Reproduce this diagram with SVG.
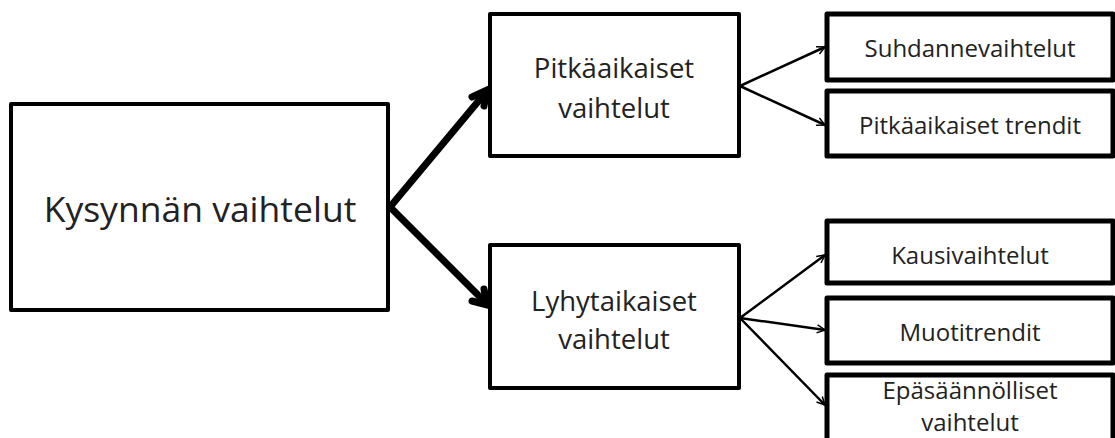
<svg xmlns="http://www.w3.org/2000/svg" width="1115" height="438" viewBox="0 0 1115 438">
<style>
.box{fill:#fff;stroke:#000;stroke-width:4;stroke-linejoin:round}
.sbox{fill:#fff;stroke:#000;stroke-width:5;stroke-linejoin:round}
text{font-family:"Open Sans","Noto Sans",sans-serif;fill:#222;text-anchor:middle;dominant-baseline:central}
.big{font-size:35.5px}
.mid{font-size:27.5px}
.sm{font-size:24px}
.thick{stroke:#000;stroke-width:7;fill:none;stroke-linecap:round}
.thin{stroke:#000;stroke-width:2.5;fill:none;stroke-linecap:round}
</style>
<defs>
<marker id="hd" viewBox="0 0 10 10" refX="9" refY="5" markerWidth="10" markerHeight="10" markerUnits="userSpaceOnUse" orient="auto">
<path d="M1,1 L9,5 L1,9" fill="none" stroke="#000" stroke-width="1.5"/>
</marker>
</defs>
<g id="n-main"><rect class="box" x="11" y="104" width="377" height="206"/><text class="big" x="200" y="208">Kysynnän vaihtelut</text></g>
<g id="n-pitka"><rect class="box" x="490" y="14" width="249" height="142"/><text class="mid" x="614" y="67">Pitkäaikaiset</text><text class="mid" x="614" y="107">vaihtelut</text></g>
<g id="n-lyhyt"><rect class="box" x="490" y="245" width="249" height="143"/><text class="mid" x="614" y="300">Lyhytaikaiset</text><text class="mid" x="614" y="338">vaihtelut</text></g>
<g id="n-suhd"><rect class="sbox" x="827" y="14" width="286" height="66"/><text class="sm" x="970" y="47">Suhdannevaihtelut</text></g>
<g id="n-trend"><rect class="sbox" x="827" y="91" width="286" height="65"/><text class="sm" x="970" y="124">Pitkäaikaiset trendit</text></g>
<g id="n-kausi"><rect class="sbox" x="827" y="221" width="286" height="62"/><text class="sm" x="970" y="254">Kausivaihtelut</text></g>
<g id="n-muoti"><rect class="sbox" x="827" y="298" width="286" height="65"/><text class="sm" x="970" y="331">Muotitrendit</text></g>
<g id="n-epa"><rect class="sbox" x="827" y="375" width="286" height="80"/><text class="sm" x="970" y="389">Epäsäännölliset</text><text class="sm" x="970" y="421">vaihtelut</text></g>
<g id="connectors">
<path class="thick" d="M390,207 L486,92"/>
<path class="thick" d="M472,97 L487,90 L484,106"/>
<path class="thick" d="M390,207 L486,303"/>
<path class="thick" d="M484,289 L487,305 L472,301"/>
<path class="thin" d="M740,86 L825,47" marker-end="url(#hd)"/>
<path class="thin" d="M740,86 L825,125" marker-end="url(#hd)"/>
<path class="thin" d="M740,318 L825,255" marker-end="url(#hd)"/>
<path class="thin" d="M740,318 L825,330" marker-end="url(#hd)"/>
<path class="thin" d="M740,318 L825,405" marker-end="url(#hd)"/>
</g>
</svg>
